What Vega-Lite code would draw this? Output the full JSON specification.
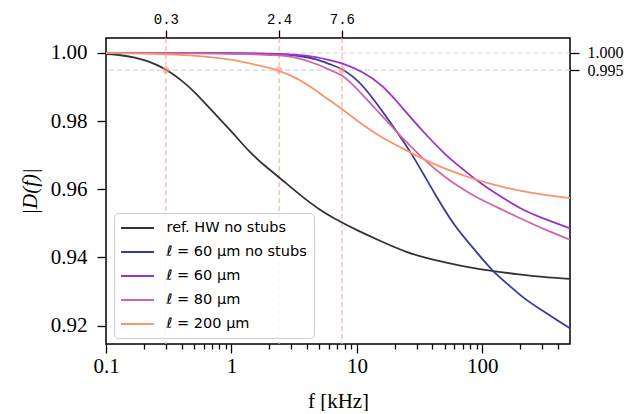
{
  "$schema": "https://vega.github.io/schema/vega-lite/v6.json",
  "width": 464,
  "height": 306,
  "padding": {"left": 19, "top": 12, "right": 5, "bottom": 0},
  "background": "white",
  "config": {
    "view": {"stroke": "#000000", "strokeWidth": 1.5},
    "axis": {"domain": false, "grid": false, "labelFont": "Liberation Serif", "titleFont": "Liberation Serif", "tickColor": "#000000", "labelColor": "#000000", "titleColor": "#000000", "tickWidth": 1.3, "titleFontWeight": "normal"}
  },
  "resolve": {"axis": {"x": "independent", "y": "independent"}},
  "layer": [
    {
      "data": {"values": [{"h": 1.0}, {"h": 0.995}]},
      "mark": {"type": "rule", "strokeDash": [5, 3], "color": "#d3d3d3", "strokeWidth": 1.2},
      "encoding": {
        "y": {"field": "h", "type": "quantitative", "scale": {"domain": [0.9146, 1.0044], "zero": false, "nice": false},
          "axis": {"orient": "right", "values": [0.995, 1.0], "format": ".3f", "labelFontSize": 16, "tickSize": 9, "labelPadding": 8, "title": null, "labelOverlap": false}}
      }
    },
    {
      "data": {"values": [{"t": 0.3}, {"t": 2.4}, {"t": 7.6}]},
      "mark": {"type": "rule", "strokeDash": [5, 3], "color": "#ffb0a3", "strokeWidth": 1.2},
      "encoding": {
        "x": {"field": "t", "type": "quantitative", "scale": {"type": "log", "domain": [0.1, 500], "nice": false},
          "axis": {"orient": "top", "values": [0.3, 2.4, 7.6], "format": ".1f", "labelFont": "Liberation Mono", "labelFontSize": 14, "tickSize": 8, "labelPadding": 4, "title": null, "labelOverlap": false}}
      }
    },
    {
      "data": {"values": [
        {"s": "ref. HW no stubs", "f": 0.1, "v": 0.9997},
        {"s": "ref. HW no stubs", "f": 0.13, "v": 0.9994},
        {"s": "ref. HW no stubs", "f": 0.17, "v": 0.9987},
        {"s": "ref. HW no stubs", "f": 0.22, "v": 0.9976},
        {"s": "ref. HW no stubs", "f": 0.3, "v": 0.9953},
        {"s": "ref. HW no stubs", "f": 0.4, "v": 0.992},
        {"s": "ref. HW no stubs", "f": 0.5, "v": 0.9889},
        {"s": "ref. HW no stubs", "f": 0.7, "v": 0.983},
        {"s": "ref. HW no stubs", "f": 1.0, "v": 0.9771},
        {"s": "ref. HW no stubs", "f": 1.4, "v": 0.9707},
        {"s": "ref. HW no stubs", "f": 2.0, "v": 0.9658},
        {"s": "ref. HW no stubs", "f": 2.4, "v": 0.9635},
        {"s": "ref. HW no stubs", "f": 3.5, "v": 0.9584},
        {"s": "ref. HW no stubs", "f": 5, "v": 0.954},
        {"s": "ref. HW no stubs", "f": 7.6, "v": 0.9502},
        {"s": "ref. HW no stubs", "f": 10, "v": 0.948},
        {"s": "ref. HW no stubs", "f": 15, "v": 0.945},
        {"s": "ref. HW no stubs", "f": 25, "v": 0.9414},
        {"s": "ref. HW no stubs", "f": 40, "v": 0.9393},
        {"s": "ref. HW no stubs", "f": 70, "v": 0.9374},
        {"s": "ref. HW no stubs", "f": 120, "v": 0.936},
        {"s": "ref. HW no stubs", "f": 200, "v": 0.935},
        {"s": "ref. HW no stubs", "f": 300, "v": 0.9343},
        {"s": "ref. HW no stubs", "f": 500, "v": 0.9337},
        {"s": "ℓ = 60 µm no stubs", "f": 0.1, "v": 1.0},
        {"s": "ℓ = 60 µm no stubs", "f": 1, "v": 1.0},
        {"s": "ℓ = 60 µm no stubs", "f": 2.4, "v": 0.9997},
        {"s": "ℓ = 60 µm no stubs", "f": 3.5, "v": 0.9992},
        {"s": "ℓ = 60 µm no stubs", "f": 4.8, "v": 0.9982},
        {"s": "ℓ = 60 µm no stubs", "f": 6, "v": 0.9968},
        {"s": "ℓ = 60 µm no stubs", "f": 7.6, "v": 0.9954},
        {"s": "ℓ = 60 µm no stubs", "f": 9, "v": 0.9935},
        {"s": "ℓ = 60 µm no stubs", "f": 11.1, "v": 0.9907},
        {"s": "ℓ = 60 µm no stubs", "f": 16, "v": 0.9829},
        {"s": "ℓ = 60 µm no stubs", "f": 21.7, "v": 0.976},
        {"s": "ℓ = 60 µm no stubs", "f": 27.7, "v": 0.9701},
        {"s": "ℓ = 60 µm no stubs", "f": 35.4, "v": 0.9633},
        {"s": "ℓ = 60 µm no stubs", "f": 41, "v": 0.9592},
        {"s": "ℓ = 60 µm no stubs", "f": 58, "v": 0.95},
        {"s": "ℓ = 60 µm no stubs", "f": 75, "v": 0.945},
        {"s": "ℓ = 60 µm no stubs", "f": 95, "v": 0.9405},
        {"s": "ℓ = 60 µm no stubs", "f": 120, "v": 0.9361},
        {"s": "ℓ = 60 µm no stubs", "f": 160, "v": 0.9321},
        {"s": "ℓ = 60 µm no stubs", "f": 220, "v": 0.9276},
        {"s": "ℓ = 60 µm no stubs", "f": 300, "v": 0.9245},
        {"s": "ℓ = 60 µm no stubs", "f": 400, "v": 0.9214},
        {"s": "ℓ = 60 µm no stubs", "f": 500, "v": 0.9192},
        {"s": "ℓ = 60 µm", "f": 0.1, "v": 1.0},
        {"s": "ℓ = 60 µm", "f": 1, "v": 1.0},
        {"s": "ℓ = 60 µm", "f": 2.4, "v": 0.9998},
        {"s": "ℓ = 60 µm", "f": 4, "v": 0.9994},
        {"s": "ℓ = 60 µm", "f": 6, "v": 0.998},
        {"s": "ℓ = 60 µm", "f": 7.6, "v": 0.9971},
        {"s": "ℓ = 60 µm", "f": 11.1, "v": 0.9946},
        {"s": "ℓ = 60 µm", "f": 16, "v": 0.9907},
        {"s": "ℓ = 60 µm", "f": 23.2, "v": 0.9838},
        {"s": "ℓ = 60 µm", "f": 33.3, "v": 0.9771},
        {"s": "ℓ = 60 µm", "f": 51, "v": 0.97},
        {"s": "ℓ = 60 µm", "f": 68, "v": 0.9663},
        {"s": "ℓ = 60 µm", "f": 88.5, "v": 0.9628},
        {"s": "ℓ = 60 µm", "f": 113, "v": 0.9601},
        {"s": "ℓ = 60 µm", "f": 160, "v": 0.9566},
        {"s": "ℓ = 60 µm", "f": 221, "v": 0.9535},
        {"s": "ℓ = 60 µm", "f": 300, "v": 0.9516},
        {"s": "ℓ = 60 µm", "f": 400, "v": 0.9499},
        {"s": "ℓ = 60 µm", "f": 500, "v": 0.9485},
        {"s": "ℓ = 80 µm", "f": 0.1, "v": 1.0},
        {"s": "ℓ = 80 µm", "f": 1, "v": 0.9999},
        {"s": "ℓ = 80 µm", "f": 2.4, "v": 0.9994},
        {"s": "ℓ = 80 µm", "f": 3.5, "v": 0.9986},
        {"s": "ℓ = 80 µm", "f": 5, "v": 0.9965},
        {"s": "ℓ = 80 µm", "f": 6, "v": 0.9951},
        {"s": "ℓ = 80 µm", "f": 7.6, "v": 0.9936},
        {"s": "ℓ = 80 µm", "f": 9, "v": 0.9912},
        {"s": "ℓ = 80 µm", "f": 11.1, "v": 0.9878},
        {"s": "ℓ = 80 µm", "f": 16, "v": 0.9814},
        {"s": "ℓ = 80 µm", "f": 20.8, "v": 0.9768},
        {"s": "ℓ = 80 µm", "f": 23.2, "v": 0.975},
        {"s": "ℓ = 80 µm", "f": 33.3, "v": 0.969},
        {"s": "ℓ = 80 µm", "f": 51, "v": 0.9633},
        {"s": "ℓ = 80 µm", "f": 73.6, "v": 0.9595},
        {"s": "ℓ = 80 µm", "f": 88, "v": 0.9578},
        {"s": "ℓ = 80 µm", "f": 135, "v": 0.9545},
        {"s": "ℓ = 80 µm", "f": 200, "v": 0.9515},
        {"s": "ℓ = 80 µm", "f": 300, "v": 0.9485},
        {"s": "ℓ = 80 µm", "f": 500, "v": 0.9452},
        {"s": "ℓ = 200 µm", "f": 0.1, "v": 1.0},
        {"s": "ℓ = 200 µm", "f": 0.3, "v": 0.9997},
        {"s": "ℓ = 200 µm", "f": 0.6, "v": 0.9991},
        {"s": "ℓ = 200 µm", "f": 1.0, "v": 0.9981},
        {"s": "ℓ = 200 µm", "f": 1.5, "v": 0.9967},
        {"s": "ℓ = 200 µm", "f": 2.4, "v": 0.995},
        {"s": "ℓ = 200 µm", "f": 3.5, "v": 0.9922},
        {"s": "ℓ = 200 µm", "f": 4.4, "v": 0.9898},
        {"s": "ℓ = 200 µm", "f": 6, "v": 0.9862},
        {"s": "ℓ = 200 µm", "f": 7.6, "v": 0.9836},
        {"s": "ℓ = 200 µm", "f": 11.1, "v": 0.9789},
        {"s": "ℓ = 200 µm", "f": 15, "v": 0.9757},
        {"s": "ℓ = 200 µm", "f": 20.3, "v": 0.9731},
        {"s": "ℓ = 200 µm", "f": 26.4, "v": 0.9709},
        {"s": "ℓ = 200 µm", "f": 34.4, "v": 0.9687},
        {"s": "ℓ = 200 µm", "f": 50, "v": 0.966},
        {"s": "ℓ = 200 µm", "f": 88.5, "v": 0.9628},
        {"s": "ℓ = 200 µm", "f": 113, "v": 0.9618},
        {"s": "ℓ = 200 µm", "f": 150, "v": 0.9605},
        {"s": "ℓ = 200 µm", "f": 250, "v": 0.9588},
        {"s": "ℓ = 200 µm", "f": 500, "v": 0.9574}
      ]},
      "mark": {"type": "line", "strokeWidth": 1.8, "interpolate": "basis"},
      "encoding": {
        "x": {"field": "f", "type": "quantitative", "scale": {"type": "log", "domain": [0.1, 500], "nice": false},
          "axis": {"orient": "bottom", "title": "f [kHz]", "titleFontSize": 21, "titlePadding": 14,
            "values": [0.1, 0.2, 0.3, 0.4, 0.5, 0.6, 0.7, 0.8, 0.9, 1, 2, 3, 4, 5, 6, 7, 8, 9, 10, 20, 30, 40, 50, 60, 70, 80, 90, 100, 200, 300, 400],
            "labelExpr": "datum.value == 0.1 ? '0.1' : datum.value == 1 ? '1' : datum.value == 10 ? '10' : datum.value == 100 ? '100' : ''",
            "labelFontSize": 21, "labelPadding": 2, "labelOverlap": false, "labelFlush": false,
            "tickSize": {"condition": {"test": "datum.value == 0.1 || datum.value == 1 || datum.value == 10 || datum.value == 100", "value": 9}, "value": 5}}},
        "y": {"field": "v", "type": "quantitative", "scale": {"domain": [0.9146, 1.0044], "zero": false, "nice": false},
          "axis": {"orient": "left", "title": "|D(f)|", "titleFontSize": 21, "titleFontStyle": "italic", "titlePadding": 10,
            "values": [0.92, 0.94, 0.96, 0.98, 1.0], "format": ".2f", "labelFontSize": 21, "tickSize": 9, "labelPadding": 10, "labelOverlap": false}},
        "color": {"field": "s", "type": "nominal",
          "scale": {"domain": ["ref. HW no stubs", "ℓ = 60 µm no stubs", "ℓ = 60 µm", "ℓ = 80 µm", "ℓ = 200 µm"],
            "range": ["#333333", "#3a3a9e", "#9933c9", "#d265a8", "#f7956c"]},
          "legend": {"orient": "none", "legendX": 8, "legendY": 175, "title": null,
            "symbolType": "M-2.33,0H2.33", "symbolSize": 200, "symbolStrokeWidth": 1.8,
            "labelFont": "DejaVu Sans", "labelFontSize": 14.5, "labelColor": "#000000",
            "rowPadding": 9, "padding": 7, "symbolOffset": 8.5, "labelOffset": 21,
            "fillColor": "rgba(255,255,255,0.85)", "strokeColor": "#cccccc", "cornerRadius": 4}}
      }
    },
    {
      "data": {"values": [{"t": 0.3, "h": 0.995}, {"t": 2.4, "h": 0.995}, {"t": 7.6, "h": 0.995}]},
      "mark": {"type": "circle", "size": 45, "color": "#ff9a88", "opacity": 0.6},
      "encoding": {
        "x": {"field": "t", "type": "quantitative", "scale": {"type": "log", "domain": [0.1, 500], "nice": false}, "axis": null},
        "y": {"field": "h", "type": "quantitative", "scale": {"domain": [0.9146, 1.0044], "zero": false, "nice": false}, "axis": null}
      }
    }
  ]
}
